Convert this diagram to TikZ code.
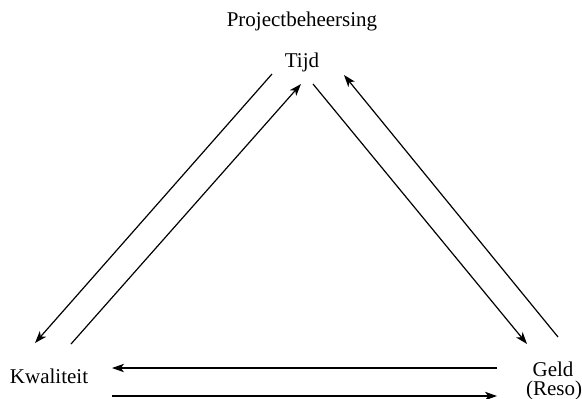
\documentclass[tikz,border=0pt]{standalone}
\usepackage{fontspec}
\setmainfont{Liberation Serif}
\usetikzlibrary{arrows.meta}
\begin{document}
\begin{tikzpicture}[x=0.5pt,y=-0.5pt,
  lbl/.style={anchor=base,inner sep=0pt,font=\fontsize{10.5}{12}\selectfont},
  arr/.style={line width=0.6pt,-{Stealth[length=6pt,width=4.2pt,inset=1.6pt]}}]
\useasboundingbox (0,0) rectangle (582,398);
\node[lbl] (title) at (302,26) {Projectbeheersing};
\node[lbl] (tijd) at (302,67) {Tijd};
\node[lbl] (kwal) at (49,383) {Kwaliteit};
\node[lbl] (geld) at (553,376) {Geld};
\node[lbl] (reso) at (554,395) {(Reso)};
% arrow endpoints
\coordinate (a1s) at (272,74);
\coordinate (a1e) at (35,343);
\coordinate (a2s) at (71,344);
\coordinate (a2e) at (301,84);
\coordinate (a3s) at (313,84);
\coordinate (a3e) at (527,344);
\coordinate (a4s) at (558,337);
\coordinate (a4e) at (344,75);
\coordinate (a5s) at (497,368);
\coordinate (a5e) at (112,368);
\coordinate (a6s) at (112,396);
\coordinate (a6e) at (497,396);
\draw[arr] (a1s) -- (a1e);
\draw[arr] (a2s) -- (a2e);
\draw[arr] (a3s) -- (a3e);
\draw[arr] (a4s) -- (a4e);
\draw[arr] (a5s) -- (a5e);
\draw[arr] (a6s) -- (a6e);
\end{tikzpicture}
\end{document}
